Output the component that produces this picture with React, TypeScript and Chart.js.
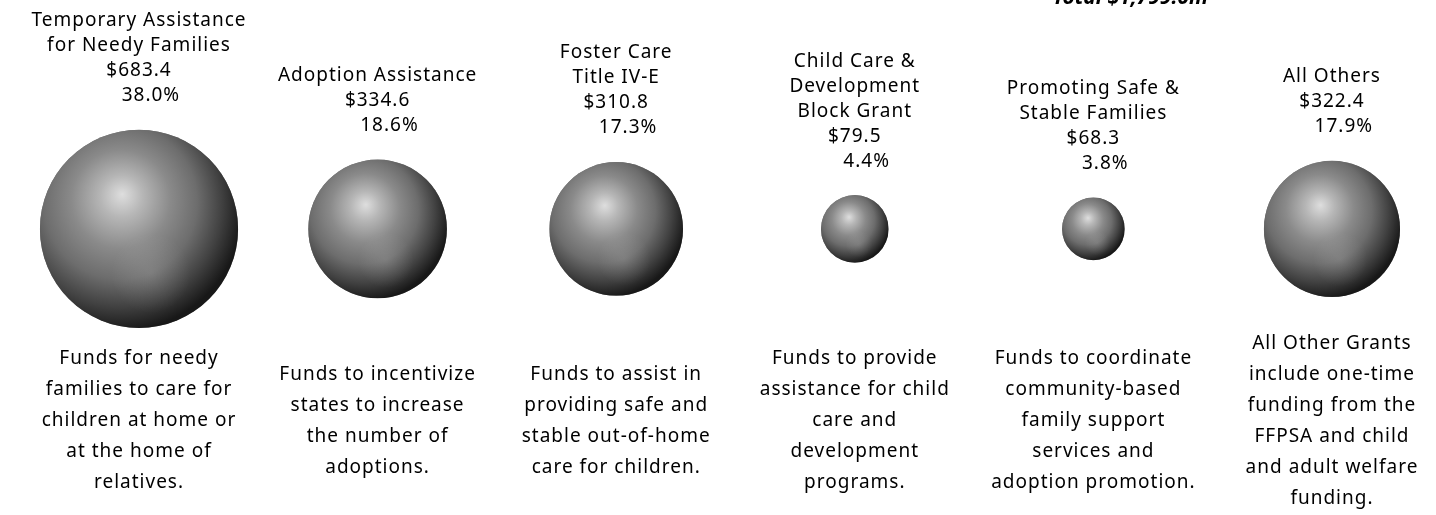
import React, { useEffect, useRef } from "react";
import { Chart, registerables } from "chart.js";

Chart.register(...registerables);

// ---- data ----
const programNames: string[] = [
  "Temporary Assistance\nfor Needy Families",
  "Adoption Assistance",
  "Foster Care\nTitle IV-E",
  "Child Care &\nDevelopment\nBlock Grant",
  "Promoting Safe &\nStable Families",
  "All Others",
];
const amounts: number[] = [683.4, 334.6, 310.8, 79.5, 68.3, 322.4];
const shares: number[] = [38.0, 18.6, 17.3, 4.4, 3.8, 17.9];
const descriptions: string[] = [
  "Funds for needy\nfamilies to care for\nchildren at home or\nat the home of\nrelatives.",
  "Funds to incentivize\nstates to increase\nthe number of\nadoptions.",
  "Funds to assist in\nproviding safe and\nstable out-of-home\ncare for children.",
  "Funds to provide\nassistance for child\ncare and\ndevelopment\nprograms.",
  "Funds to coordinate\ncommunity-based\nfamily support\nservices and\nadoption promotion.",
  "All Other Grants\ninclude one-time\nfunding from the\nFFPSA and child\nand adult welfare\nfunding.",
];
const totalLabel = "Total $1,799.0m";

const FONT = '"Noto Sans", sans-serif';

const spherePlugin = {
  id: "spheres",
  afterDatasetsDraw(chart: any) {
    const ctx: CanvasRenderingContext2D = chart.ctx;
    const meta = chart.getDatasetMeta(0);
    meta.data.forEach((el: any, i: number) => {
      const { x, y } = el.getProps(["x", "y"], true);
      const r: number = el.options.radius;
      ctx.save();
      ctx.beginPath();
      ctx.arc(x, y, r, 0, Math.PI * 2);
      ctx.clip();
      const g = ctx.createRadialGradient(x - 0.17 * r, y - 0.35 * r, 0, x - 0.2 * r, y - 0.22 * r, 1.25 * r);
      g.addColorStop(0, "#dedede");
      g.addColorStop(0.17, "#b6b6b6");
      g.addColorStop(0.4, "#8a8a8a");
      g.addColorStop(0.62, "#6d6d6d");
      g.addColorStop(0.82, "#424242");
      g.addColorStop(1, "#181818");
      ctx.fillStyle = g;
      ctx.fillRect(x - r, y - r, 2 * r, 2 * r);
      const g2 = ctx.createRadialGradient(x + 0.12 * r, y + 0.45 * r, 0, x + 0.12 * r, y + 0.45 * r, 0.4 * r);
      g2.addColorStop(0, "rgba(255,255,255,0.12)");
      g2.addColorStop(1, "rgba(255,255,255,0)");
      ctx.fillStyle = g2;
      ctx.fillRect(x - r, y - r, 2 * r, 2 * r);
      ctx.restore();

      // title block above sphere
      ctx.save();
      ctx.fillStyle = "#000";
      ctx.font = `19px ${FONT}`;
      (ctx as any).letterSpacing = "1px";
      ctx.textAlign = "center";
      ctx.textBaseline = "middle";
      const lines = programNames[i].split("\n");
      lines.push("$" + amounts[i].toFixed(1));
      lines.push("    " + shares[i].toFixed(1) + "%");
      const lh = 25;
      const lastY = y - r - 34;
      lines.forEach((t, k) => {
        ctx.fillText(t, x, lastY - (lines.length - 1 - k) * lh);
      });
      // description block below
      const d = descriptions[i].split("\n");
      const dlh = 31;
      const mid = 421;
      d.forEach((t, k) => {
        ctx.fillText(t, x, mid + (k - (d.length - 1) / 2) * dlh);
      });
      ctx.restore();
    });
    // total label (cropped at top)
    ctx.save();
    ctx.fillStyle = "#000";
    ctx.font = `italic bold 21px ${FONT}`;
    ctx.textAlign = "right";
    ctx.textBaseline = "alphabetic";
    ctx.fillText(totalLabel, 1208, 4);
    ctx.restore();
  },
};

export default function App() {
  const ref = useRef<HTMLCanvasElement | null>(null);
  useEffect(() => {
    if (!ref.current) return;
    const chart = new Chart(ref.current, {
      type: "bubble",
      data: {
        datasets: [
          {
            data: amounts.map((v, i) => ({ x: i, y: 0, r: Math.sqrt(v) * 3.79 })),
            backgroundColor: "#777777",
            borderWidth: 0,
          },
        ],
      },
      options: {
        animation: false,
        responsive: false,
        devicePixelRatio: 1,
        layout: { padding: 0, autoPadding: false },
        plugins: { legend: { display: false }, tooltip: { enabled: false } },
        scales: {
          x: { type: "linear", display: false, min: -0.5826, max: 5.436 },
          y: { type: "linear", display: false, min: -1.25, max: 1 },
        },
      },
      plugins: [spherePlugin],
    });
    return () => chart.destroy();
  }, []);
  return (
    <div style={{ position: "absolute", left: 0, top: 0, width: 1436, height: 515, background: "#fff" }}>
      <canvas ref={ref} width={1436} height={515} />
    </div>
  );
}
